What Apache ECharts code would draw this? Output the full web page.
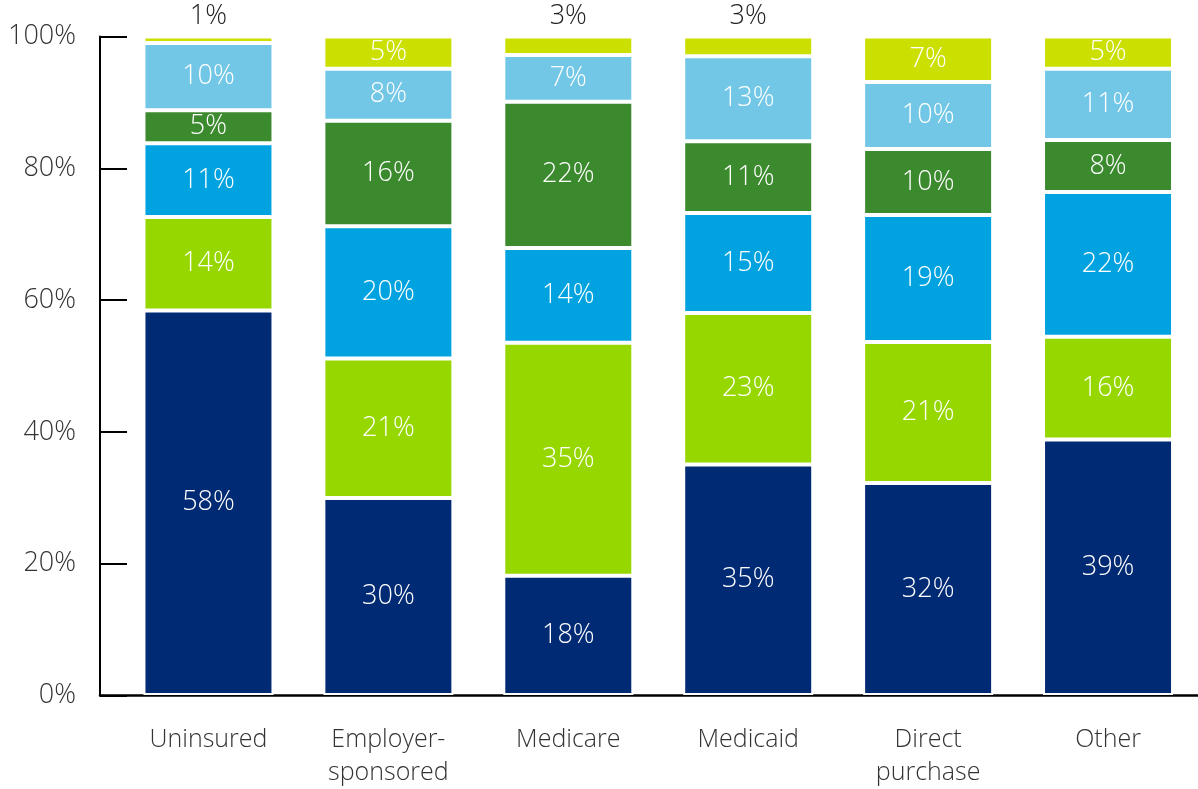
<!DOCTYPE html>
<html>
<head>
<meta charset="utf-8">
<script src="https://cdn.jsdelivr.net/npm/echarts@6/dist/echarts.min.js"></script>
<style>
  html, body { margin: 0; padding: 0; background: #fff; }
  #main { width: 1198px; height: 789px; }
</style>
</head>
<body>
<div id="main"></div>
<script>
const categories = ["Uninsured", "Employer-\nsponsored", "Medicare", "Medicaid", "Direct\npurchase", "Other"];

// segments, bottom to top (percent of each bar)
const navy = [58.4, 29.9, 18.1, 35.0, 32.2, 38.8];
const lime = [14.2, 21.2, 35.4, 23.0, 21.4, 15.6];
const blue = [11.2, 20.1, 14.4, 15.2, 19.3, 22.0];
const darkGreen = [5.0, 16.0, 22.2, 10.9, 10.0, 7.9];
const lightBlue = [10.2, 7.9, 7.1, 12.9, 10.2, 10.8];
const yellow = [1.0, 4.9, 2.8, 3.0, 6.9, 4.9];

const yTicks = [0, 20, 40, 60, 80, 100];

const FONT = "'Open Sans', 'Noto Sans', sans-serif";
const colors = ["#012A74", "#97D700", "#00A3E0", "#3C8A2E", "#72C7E7", "#CBDF00"];
const seriesData = [navy, lime, blue, darkGreen, lightBlue, yellow];

const fmt = (p) => Math.round(p.value) + "%";

// small segments get their label above the bar
const makeData = (arr) => arr.map((v) => {
    if (v < 4) {
        return {
            value: v,
            label: { position: "top", color: "#222", distance: 7 }
        };
    }
    return v;
});

var myChart = echarts.init(document.getElementById("main"), null, { renderer: "canvas" });

var option = {
    animation: false,
    textStyle: { fontFamily: FONT, fontWeight: 300 },
    grid: [
        { left: 118.5, width: 1085.4, top: 36.5, bottom: 93.5 },
        { left: 100, right: 0, top: 36.5, bottom: 93.5 }
    ],
    xAxis: [
        {
            type: "category",
            gridIndex: 0,
            data: categories,
            axisLine: { show: false },
            axisTick: { show: false },
            axisLabel: {
                fontFamily: FONT,
                fontWeight: 300,
                fontSize: 25,
                color: "#333",
                lineHeight: 33,
                margin: 28,
                interval: 0
            }
        },
        {
            type: "value",
            gridIndex: 1,
            min: 0,
            max: 1,
            axisLine: { show: true, onZero: false, lineStyle: { color: "#000", width: 2.5 } },
            axisTick: { show: false },
            axisLabel: { show: false },
            splitLine: { show: false }
        }
    ],
    yAxis: [
        {
            type: "value",
            gridIndex: 0,
            min: 0,
            max: 100,
            show: false
        },
        {
            type: "value",
            gridIndex: 1,
            min: 0,
            max: 100,
            interval: 20,
            axisLine: { show: true, lineStyle: { color: "#000", width: 2 } },
            axisTick: { show: true, inside: true, length: 27, lineStyle: { color: "#000", width: 2 } },
            splitLine: { show: false },
            axisLabel: {
                fontFamily: FONT,
                fontWeight: 300,
                fontSize: 27,
                color: "#333",
                margin: 24,
                formatter: (v) => (yTicks.indexOf(v) >= 0 ? v + "%" : "")
            }
        }
    ],
    series: seriesData.map((arr, i) => ({
        type: "bar",
        xAxisIndex: 0,
        yAxisIndex: 0,
        stack: "total",
        barWidth: 130,
        data: makeData(arr),
        itemStyle: { color: colors[i], borderColor: "#fff", borderWidth: 2 },
        label: {
            show: true,
            position: "inside",
            color: "#fff",
            fontFamily: FONT,
            fontWeight: 300,
            fontSize: 27,
            formatter: fmt
        }
    }))
};
myChart.setOption(option);
</script>
</body>
</html>
